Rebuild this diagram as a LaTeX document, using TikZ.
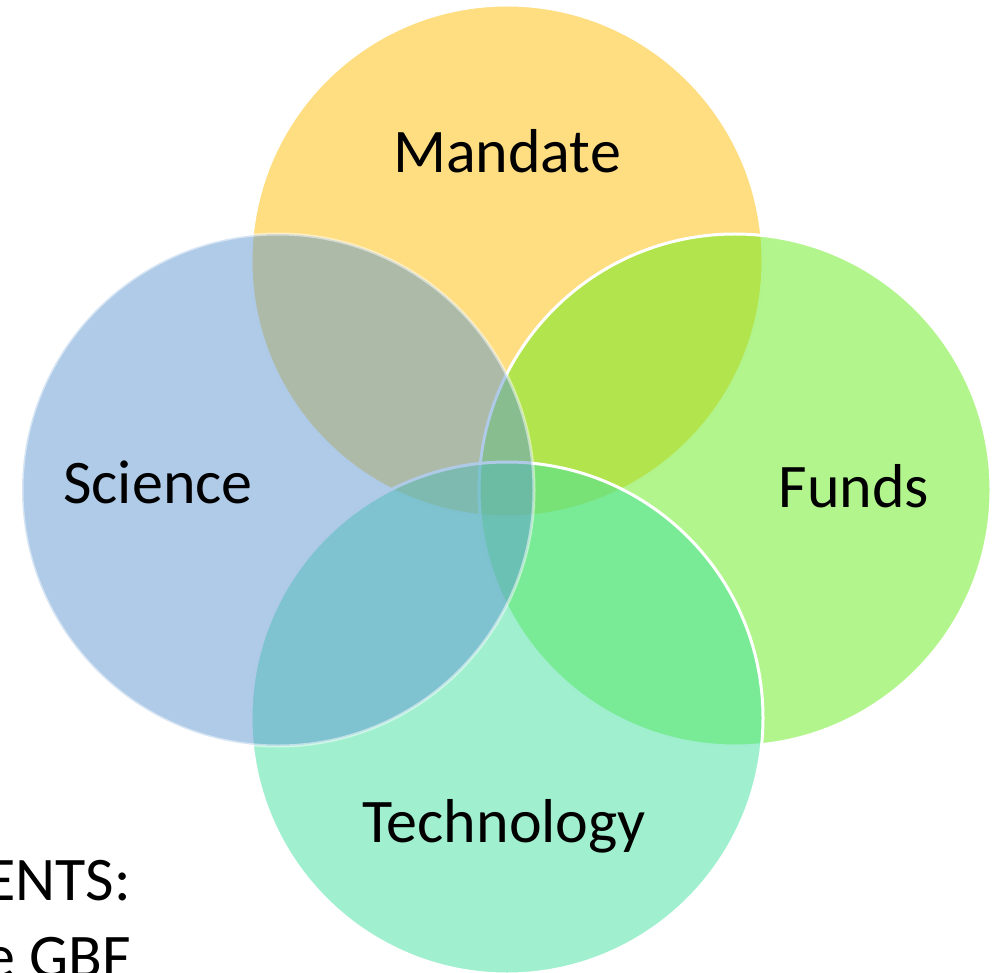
\documentclass[tikz,border=0pt]{standalone}
\usepackage{fontspec}
\setmainfont{Carlito}
\definecolor{mandatecol}{RGB}{253,189,1}
\definecolor{fundscol}{RGB}{103,235,27}
\definecolor{techcol}{RGB}{65,225,161}
\definecolor{sciencecol}{RGB}{95,151,209}
\tikzset{
    venn/.style={circle, minimum size=512pt, inner sep=0pt, fill opacity=0.5, draw=white, line width=3pt},
    lbl/.style={inner sep=0pt, anchor=base, font=\fontsize{62}{70}\selectfont}
}
\begin{document}
\begin{tikzpicture}[x=1pt,y=-1pt]
\useasboundingbox (0,0) rectangle (996,973);
\clip (0,0) rectangle (996,973);

% slide text behind
\node[lbl, anchor=base east] (ents) at (131,900) {ENTS:};
\node[lbl, anchor=base east] (gbf) at (131,977) {e GBF};

% circles
\foreach \name/\cx/\cy/\col/\dop in {
    mandate/507/261/mandatecol/1,
    funds/735/490/fundscol/1,
    technology/507/718/techcol/1,
    science/278/490/sciencecol/0.5
} {
    \node[venn, fill=\col, draw opacity=\dop] (\name) at (\cx,\cy) {};
}

% labels
\foreach \name/\lx/\ly/\txt in {
    mandate/507/173/Mandate,
    science/158/503/Science,
    funds/854/507/Funds,
    technology/504/842/Technology
} {
    \node[lbl] (\name-txt) at (\lx,\ly) {\txt};
}
\end{tikzpicture}
\end{document}
